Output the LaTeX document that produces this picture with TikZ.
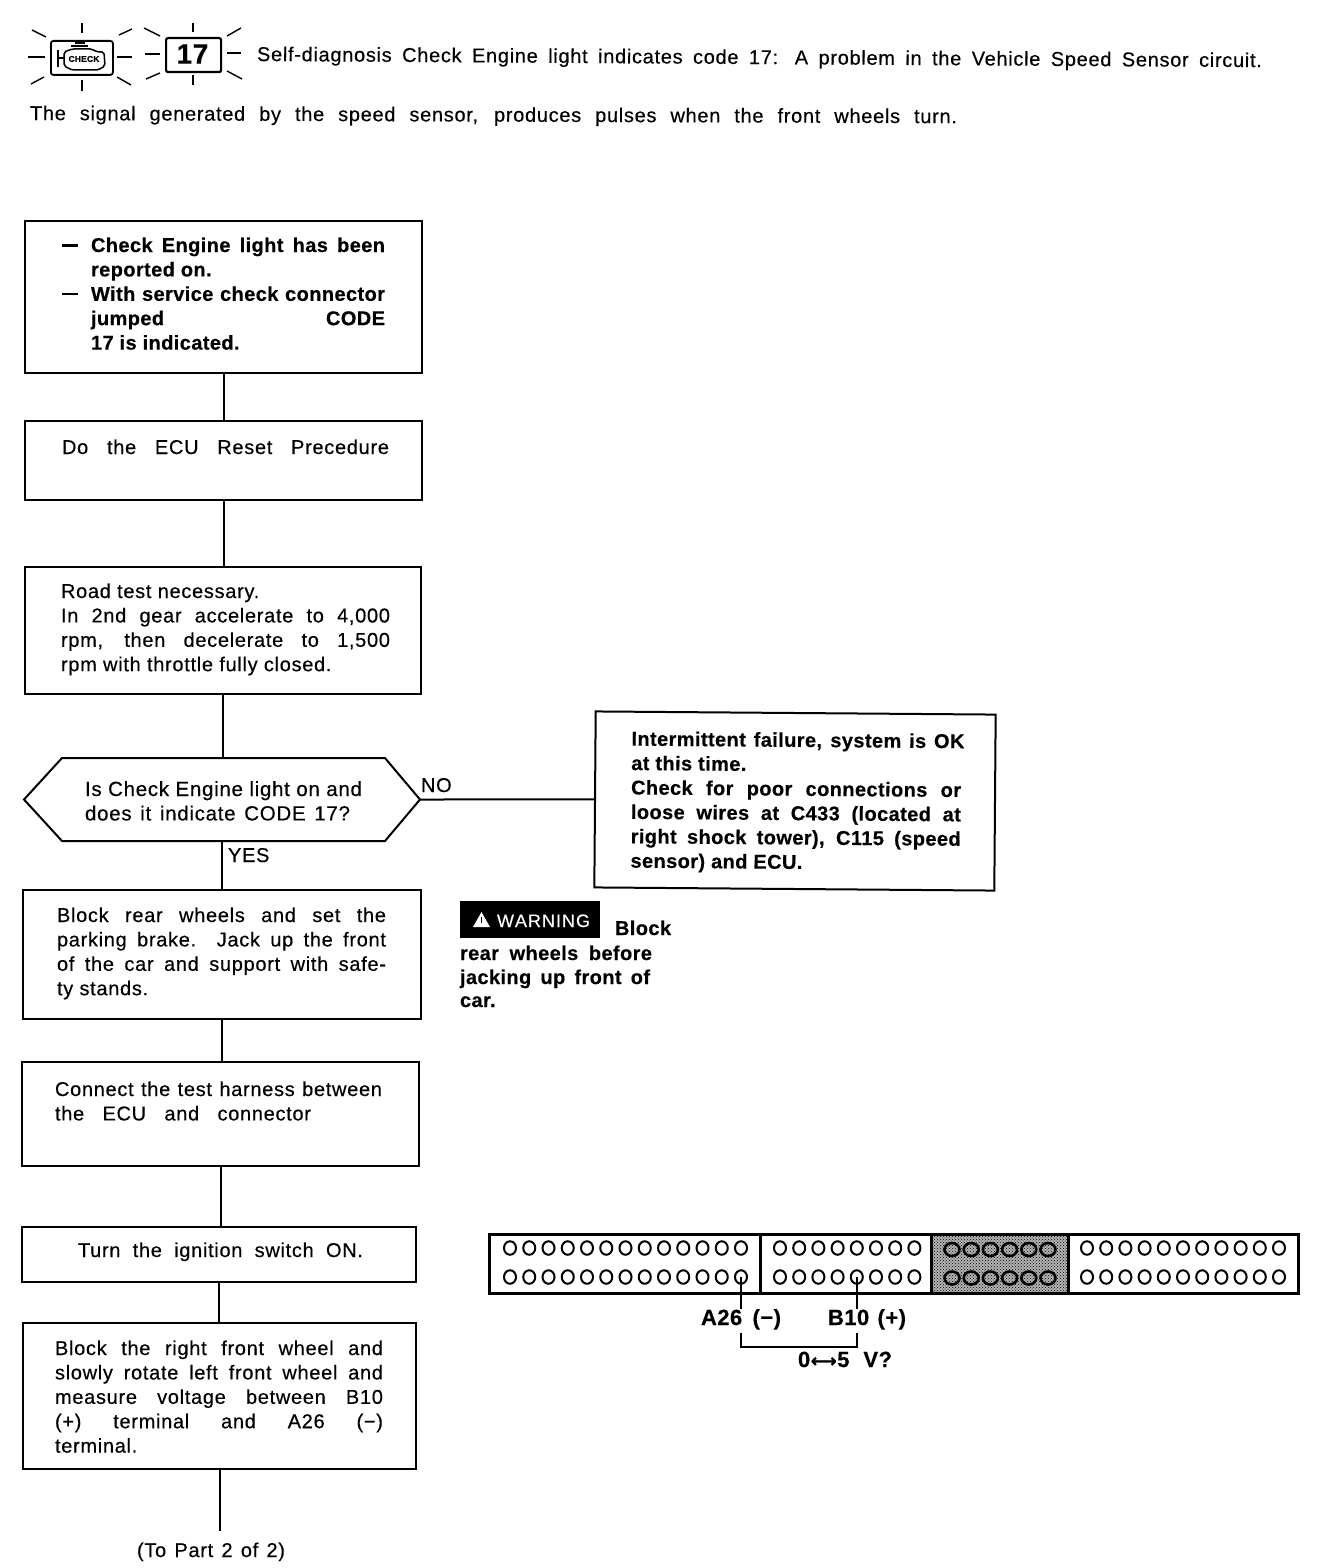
\documentclass[tikz,border=0pt]{standalone}
\usepackage{fontspec}
\setmainfont{Liberation Sans}[FakeBold=0.35,UprightFeatures={LetterSpace=3.5},BoldFeatures={LetterSpace=2}]
\newfontfamily\djv{DejaVu Sans}[FakeBold=1]
\usetikzlibrary{shapes.geometric,patterns}
\newcommand\J[2]{\hbox{\hskip\lmarg\makebox[#1pt][s]{#2}}}
\newcommand\N[1]{\hbox{\hskip\lmarg #1}}
\newdimen\lmarg
\newcommand\boxbody[5]{\vbox to #2pt{\hsize=#1pt\baselineskip=24.4pt\lineskiplimit=-100pt\lmarg=#4pt\relax
 \hbox to #1pt{\hfil}\vskip #3pt#5\vss}}
\newcommand\dashmark{\llap{\rule[5.5pt]{16pt}{2.2pt}\hskip13pt}}
\tikzset{
 flowbox/.style={draw=black,line width=2pt,fill=white,inner sep=0pt,outer sep=0pt,anchor=north west,font=\fontsize{20}{24.4}\selectfont},
 plain/.style={inner sep=0pt,outer sep=0pt,font=\fontsize{20}{24.4}\selectfont,anchor=base west},
 boldtxt/.style={plain,font=\fontsize{20}{24.4}\selectfont\bfseries},
 conn/.style={draw=black,line width=2pt},
 ray/.style={draw=black,line width=1.4pt},
 pin/.style={ellipse,draw=black,line width=2pt,minimum width=12pt,minimum height=13.5pt,inner sep=0pt,outer sep=0pt},
 darkpin/.style={ellipse,draw=black,line width=2.6pt,minimum width=15pt,minimum height=13pt,inner sep=0pt,outer sep=0pt},
 housing/.style={draw=black,line width=3pt},
}
\begin{document}
\begin{tikzpicture}[x=1pt,y=-1pt]
\useasboundingbox (0,0) rectangle (1328,1568);
\fill[white] (0,0) rectangle (1328,1568);

% header icons
\node[draw=black,line width=1.8pt,rounded corners=2.5pt,minimum width=62pt,minimum height=34pt,inner sep=0pt,anchor=north west] (eng) at (50,40) {};
\draw[line width=1.6pt] (58,50) -- (58,67);
\draw[line width=1.4pt] (58,58) -- (64,58);
\draw[line width=1.5pt,rounded corners=2pt] (64,52) -- (72,49) -- (92,49) -- (97,52) -- (104,52) -- (105,66) -- (98,70) -- (72,70) -- (64,66) -- cycle;
\draw[line width=1.4pt] (71,46) -- (88,46) (75,43) -- (85,43);
\node[inner sep=0pt,font=\fontsize{8.5}{9}\selectfont\bfseries] (chk) at (84,59) {CHECK};
\node[draw=black,line width=2.2pt,rounded corners=2pt,minimum width=55pt,minimum height=34pt,inner sep=0pt,anchor=north west] (code) at (165,37) {};
\node[inner sep=0pt,font=\fontsize{28}{28}\selectfont\bfseries] (cn) at (192.5,54) {17};
\foreach \a/\b/\c/\d in {82/23/82/33,82/80/82/91,28/57/45/57,117/57/132/57,32/30/46/37,119/35/132/29,31/84/44/77,117/77/131/85,
 193/23/193/32,193/75/193/85,145/54/160/54,227/53/241/53,144/28/160/36,227/36/241/28,146/79/160/73,227/71/242/79}
 \draw[ray] (\a,\b) -- (\c,\d);

% header text
\node[plain,rotate=-0.35] (h1) at (257,61) {\makebox[1005pt][s]{Self-diagnosis Check Engine light indicates code 17: A problem in the Vehicle Speed Sensor circuit.}};
\node[plain,rotate=-0.2] (h2) at (30,120) {\makebox[927pt][s]{The signal generated by the speed sensor, produces pulses when the front wheels turn.}};

% flow boxes
\node[flowbox,font=\fontsize{20}{24.4}\selectfont\bfseries] (b1) at (25,221) {\boxbody{397}{152}{6.6}{66}{%
 \hbox{\hskip\lmarg\dashmark\makebox[294pt][s]{Check Engine light has been}}
 \N{reported on.}
 \hbox{\hskip\lmarg\dashmark\makebox[294pt][s]{With service check connector}}
 \J{294}{jumped\hfill CODE}
 \N{17 is indicated.}}};
\node[flowbox] (b2) at (25,421) {\boxbody{397}{79}{8.6}{37}{\J{327}{Do the ECU Reset Precedure}}};
\node[flowbox] (b3) at (25,567) {\boxbody{396}{127}{6.6}{36}{%
 \N{Road test necessary.}
 \J{329}{In 2nd gear accelerate to 4,000}
 \J{329}{rpm, then decelerate to 1,500}
 \N{rpm with throttle fully closed.}}};
\node[inner sep=0pt,outer sep=0pt,anchor=north west,font=\fontsize{20.5}{24.4}\selectfont] (q) at (24,758) {\boxbody{396}{83}{13.6}{61}{%
 \J{277}{Is Check Engine light on and}
 \J{265}{does it indicate CODE 17?}}};
\draw[conn,line join=miter] (q.west) -- ([xshift=38pt]q.north west) -- ([xshift=-35pt]q.north east) -- (q.east) -- ([xshift=-35pt]q.south east) -- ([xshift=38pt]q.south west) -- cycle;
\node[flowbox,rotate=-0.45,anchor=center,font=\fontsize{20}{24.4}\selectfont\bfseries] (r) at (795,801) {\boxbody{400}{176}{9.5}{36}{%
 \J{333}{Intermittent failure, system is OK}
 \N{at this time.}
 \J{330}{Check for poor connections or}
 \J{330}{loose wires at C433 (located at}
 \J{330}{right shock tower), C115 (speed}
 \N{sensor) and ECU.}}};
\node[flowbox] (b4) at (23,890) {\boxbody{398}{129}{7.6}{34}{%
 \J{329}{Block rear wheels and set the}
 \J{329}{parking brake. Jack up the front}
 \J{329}{of the car and support with safe-}
 \N{ty stands.}}};
\node[flowbox] (b5) at (22,1062) {\boxbody{397}{104}{9.6}{33}{%
 \J{327}{Connect the test harness between}
 \J{256}{the ECU and connector}}};
\node[flowbox] (b6) at (22,1227) {\boxbody{394}{55}{5.6}{56}{\J{285}{Turn the ignition switch ON.}}};
\node[flowbox] (b7) at (23,1323) {\boxbody{393}{146}{7.6}{32}{%
 \J{328}{Block the right front wheel and}
 \J{328}{slowly rotate left front wheel and}
 \J{328}{measure voltage between B10}
 \J{328}{(+) terminal and A26 (−)}
 \N{terminal.}}};

\node[plain] (no) at (421,792) {NO};
\node[plain] (yes) at (228,862) {YES};
\node[plain] (part) at (137,1557) {\makebox[148pt][s]{(To Part 2 of 2)}};
\coordinate (endp) at (220,1531);

% flow connectors
\draw[conn] (b1.south) -- (b1.south |- b2.north);
\draw[conn] (b2.south) -- (b2.south |- b3.north);
\draw[conn] (b3.south) -- (b3.south |- q.north);
\draw[conn] (q.south) -- (q.south |- b4.north);
\draw[conn] (q.east) -- (r.west);
\draw[conn] (b4.south) -- (b4.south |- b5.north);
\draw[conn] (b5.south) -- (b5.south |- b6.north);
\draw[conn] (b6.south) -- (b6.south |- b7.north);
\draw[conn] (b7.south) -- (b7.south |- endp);

% warning
\node[fill=black,inner sep=0pt,outer sep=0pt,minimum width=140pt,minimum height=37pt,anchor=north west] (warn) at (460,901) {};
\fill[white] (481.5,912) -- (490,927) -- (473,927) -- cycle;
\draw[black,line width=1.5pt] (481.5,917) -- (481.5,923);
\node[plain,text=white,font=\fontsize{18}{18}\selectfont] (wt) at (497,927) {\makebox[93pt][s]{W\hfil A\hfil R\hfil N\hfil I\hfil N\hfil G}};
\node[boldtxt] (w0) at (615,935) {Block};
\node[boldtxt] (w1) at (460,960) {\makebox[192pt][s]{rear wheels before}};
\node[boldtxt] (w2) at (460,984) {\makebox[190pt][s]{jacking up front of}};
\node[boldtxt] (w3) at (460,1007) {car.};

% ECU connector
\fill[black!30] (931,1234) rectangle (1068,1293);
\fill[pattern=crosshatch dots,pattern color=black] (931,1234) rectangle (1068,1293);
\draw[housing] (489,1234) rectangle (1298,1293);
\draw[housing] (760,1234) -- (760,1293) (931,1234) -- (931,1293) (1068,1234) -- (1068,1293);
\foreach \i in {0,...,12}{
 \node[pin] (a\i) at ({510+19.25*\i},1248) {};
 \node[pin] (c\i) at ({510+19.25*\i},1277) {};}
\foreach \i in {0,...,7}{
 \node[pin] (d\i) at ({780+19.2*\i},1248) {};
 \node[pin] (e\i) at ({780+19.2*\i},1277) {};}
\foreach \i in {0,...,5}{
 \node[darkpin] (f\i) at ({952+19.2*\i},1249.5) {};
 \node[darkpin] (g\i) at ({952+19.2*\i},1278) {};}
\foreach \i in {0,...,10}{
 \node[pin] (k\i) at ({1087+19.2*\i},1248) {};
 \node[pin] (m\i) at ({1087+19.2*\i},1277) {};}
\node[boldtxt,font=\fontsize{22}{24}\selectfont\bfseries] (la) at (701,1325) {\makebox[80pt][s]{A26 (−)}};
\node[boldtxt,font=\fontsize{22}{24}\selectfont\bfseries] (lb) at (828,1325) {\makebox[78pt][s]{B10 (+)}};
\node[boldtxt,font=\fontsize{22}{24}\selectfont\bfseries] (lv) at (798,1367) {\makebox[94pt][s]{0\hbox to 27pt{\hss\djv\fontsize{18}{18}\selectfont ⟷\hss}5 V?}};
\draw[conn] (c12.center) -- (c12.center |- la.north);
\draw[conn] (e4.center) -- (e4.center |- lb.north);
\draw[conn,line join=miter] ([yshift=-3pt]c12.center |- la.south) -- ([yshift=5pt]c12.center |- lv.north) -| ([yshift=-3pt]e4.center |- lb.south);
\end{tikzpicture}
\end{document}
